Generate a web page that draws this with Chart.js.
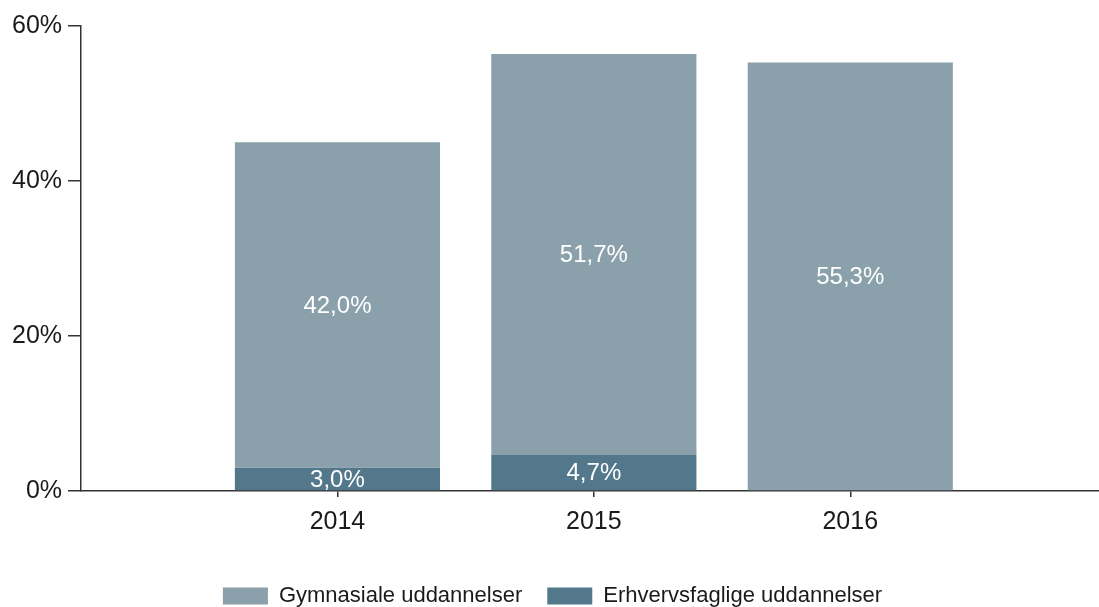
<!DOCTYPE html>
<html>
<head>
<meta charset="utf-8">
<script src="https://cdn.jsdelivr.net/npm/chart.js@4/dist/chart.umd.min.js"></script>
<style>
  html, body { margin: 0; padding: 0; background: #fff; }
  #wrap { width: 1099px; height: 607px; position: relative; }
</style>
</head>
<body>
<div id="wrap"><canvas id="chart"></canvas></div>
<script>
const years = ["2014", "2015", "2016"];
const gymnasiale = [42.0, 51.7, 55.3];
const erhvervsfaglige = [3.0, 4.7, null];
const yTicks = [0, 20, 40, 60];

const axisColor = "#333";
const font = "Liberation Sans";

// bars sit on a linear x axis so the axis can run on past the last year
const toPoints = arr => arr.map((v, i) => ({ x: i + 1, y: v }));

const valueLabels = {
  id: "valueLabels",
  afterDatasetsDraw(chart) {
    const ctx = chart.ctx;
    ctx.save();
    ctx.fillStyle = "#fff";
    ctx.font = "24px '" + font + "'";
    ctx.textAlign = "center";
    ctx.textBaseline = "middle";
    chart.data.datasets.forEach((ds, di) => {
      const meta = chart.getDatasetMeta(di);
      meta.data.forEach((bar, i) => {
        const v = ds.data[i].y;
        if (v == null) return;
        const p = bar.getProps(["x", "y", "base"], true);
        ctx.fillText(v.toFixed(1).replace(".", ",") + "%", p.x, (p.y + p.base) / 2 + 1);
      });
    });
    ctx.restore();
  }
};

new Chart(document.getElementById("chart"), {
  type: "bar",
  data: {
    datasets: [
      {
        label: "Gymnasiale uddannelser",
        data: toPoints(gymnasiale),
        backgroundColor: "#8aa0ab",
        order: 1
      },
      {
        label: "Erhvervsfaglige uddannelser",
        data: toPoints(erhvervsfaglige),
        backgroundColor: "#53788b",
        order: 0
      }
    ]
  },
  options: {
    responsive: true,
    maintainAspectRatio: false,
    animation: false,
    layout: { padding: { top: 26, right: 0, left: 6, bottom: -10 } },
    datasets: { bar: { barPercentage: 0.8, categoryPercentage: 1 } },
    scales: {
      x: {
        type: "linear",
        stacked: true,
        offset: false,
        min: 0,
        max: 3.97,
        afterBuildTicks: scale => { scale.ticks = years.map((y, i) => ({ value: i + 1 })); },
        afterFit: scale => { scale.height += 13; },
        grid: { offset: false, drawOnChartArea: false, tickLength: 6, color: axisColor, lineWidth: 1.5 },
        border: { display: true, color: axisColor, width: 1.5 },
        ticks: {
          callback: v => years[v - 1],
          color: "#1a1a1a",
          font: { family: font, size: 25 },
          padding: 10,
          maxRotation: 0
        }
      },
      y: {
        stacked: true,
        min: 0,
        max: 60,
        afterBuildTicks: scale => { scale.ticks = yTicks.map(v => ({ value: v })); },
        grid: { drawOnChartArea: false, tickLength: 13, color: axisColor, lineWidth: 1.5 },
        border: { display: true, color: axisColor, width: 1.5 },
        ticks: {
          callback: v => v + "%",
          color: "#1a1a1a",
          font: { family: font, size: 25 },
          padding: 6
        }
      }
    },
    plugins: {
      legend: {
        position: "bottom",
        labels: {
          boxWidth: 45,
          boxHeight: 17,
          color: "#1a1a1a",
          font: { family: font, size: 22 },
          padding: 25,
          sort: (a, b) => a.datasetIndex - b.datasetIndex
        }
      },
      tooltip: { enabled: false }
    }
  },
  plugins: [valueLabels]
});
</script>
</body>
</html>
